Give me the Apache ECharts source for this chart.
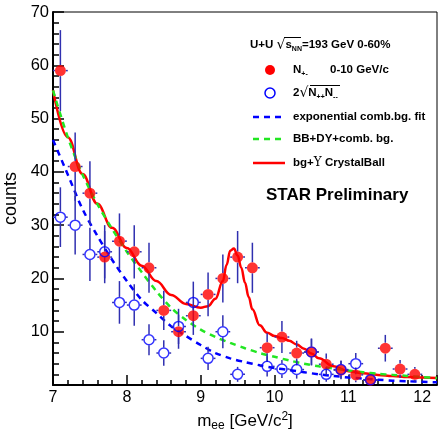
<!DOCTYPE html>
<html>
<head>
<meta charset="utf-8">
<script src="https://cdn.jsdelivr.net/npm/echarts@6/dist/echarts.min.js"></script>
<style>html,body{margin:0;padding:0;background:#fff;}</style>
</head>
<body>
<div id="main" style="width:438px;height:430px;"></div>
<script>
// bin centres of the dielectron mass histogram (GeV/c^2)
var binCenters = [7.1, 7.3, 7.5, 7.7, 7.9, 8.1, 8.3, 8.5, 8.7, 8.9, 9.1, 9.3, 9.5, 9.7, 9.9, 10.1, 10.3, 10.5, 10.7, 10.9, 11.1, 11.3, 11.5, 11.7, 11.9];
// unlike-sign pairs N+-
var unlikeSign = [59, 41, 36, 24, 27, 25, 22, 14, 10, 13, 17, 20, 24, 22, 7, 9, 6, 6.2, 3.9, 2.8, 1.9, 0.9, 6.9, 3, 2];
var unlikeErr  = [7.6, 6.4, 6, 4.9, 5.2, 5, 4.7, 3.7, 3.2, 3.6, 4.1, 4.5, 4.9, 4.7, 2.7, 3, 2.3, 2.5, 2, 1.7, 1.4, 1, 2.5, 1.7, 1.4];
// like-sign 2*sqrt(N++ N--)
var likeSign = [31.5, 30, 24.5, 25, 15.5, 15, 8.5, 6, 11, 15.5, 5, 10, 2, null, 3.5, 3, 2.9, 6.2, 2, 2.9, 4, 1, null, null, null];
var likeErr  = [5.6, 5.5, 5, 5, 4, 3.9, 2.9, 2.4, 3.3, 3.9, 2.2, 3.1, 1.4, null, 1.9, 1.7, 1.7, 2.5, 1.4, 1.7, 2, 1, null, null, null];

// background curves
var fitX = [7.0, 7.2, 7.4, 7.6, 7.8, 8.0, 8.2, 8.4, 8.6, 8.8, 9.0, 9.2, 9.4, 9.6, 9.8, 10.0, 10.2, 10.4, 10.6, 10.8, 11.0, 11.2, 11.4, 11.6, 11.8, 12.0, 12.2];
var expBg      = [46, 39.5, 33, 28, 23.5, 19.5, 16, 13.5, 11, 9.2, 7.5, 6.0, 5.0, 4.3, 3.7, 3.2, 2.8, 2.4, 2.0, 1.7, 1.4, 1.2, 1.0, 0.8, 0.7, 0.6, 0.5];
var cocktailBg = [55.3, 46.5, 39.5, 34, 29.3, 25.0, 21.2, 17.6, 14.5, 12.2, 10.4, 9.0, 7.9, 6.9, 6.0, 5.3, 4.6, 4.0, 3.5, 3.1, 2.7, 2.4, 2.1, 1.9, 1.7, 1.5, 1.3];

// bg + Upsilon crystal ball
var upsX   = [7.0, 7.2, 7.4, 7.6, 7.8, 8.0, 8.2, 8.4, 8.6, 8.8, 9.0, 9.1, 9.2, 9.3, 9.35, 9.4, 9.45, 9.5, 9.55, 9.6, 9.65, 9.7, 9.8, 9.9, 10.0, 10.1, 10.2, 10.3, 10.4, 10.5, 10.6, 10.8, 11.0, 11.2, 11.4, 11.6, 11.8, 12.0, 12.2];
var upsFit = [55.3, 46.5, 39.6, 34, 29.5, 25.7, 22.4, 19.5, 16.9, 15.2, 14.5, 14.8, 16.2, 19.5, 22.5, 25.2, 25.6, 24.3, 22, 19.2, 16.5, 14.2, 11.2, 9.8, 9.2, 8.8, 8.3, 7.6, 6.8, 5.9, 5.0, 3.5, 2.6, 2.2, 1.9, 1.7, 1.5, 1.4, 1.3];

var xLabels = [7, 8, 9, 10, 11, 12];

var font = 'Liberation Sans, Arial, sans-serif';
var barColor = '#3030b0';
var markR = 5.5;

function pairs(xs, ys) {
    var out = [];
    for (var i = 0; i < xs.length; i++) {
        if (ys[i] != null) out.push([xs[i], ys[i]]);
    }
    return out;
}

// ROOT style error bars: vertical = stat. error, horizontal = half bin width,
// not drawn inside the marker
function errorBars(vals, errs, z) {
    var data = [];
    for (var i = 0; i < binCenters.length; i++) {
        if (vals[i] != null) data.push([binCenters[i], vals[i], errs[i]]);
    }
    return {
        type: 'custom',
        z: z,
        silent: true,
        data: data,
        encode: {x: 0, y: 1},
        renderItem: function (params, api) {
            var x = api.value(0), y = api.value(1), e = api.value(2);
            var c = api.coord([x, y]);
            var top = api.coord([x, y + e]);
            var bot = api.coord([x, Math.max(y - e, 0)]);
            var l = api.coord([x - 0.1, y]);
            var r = api.coord([x + 0.1, y]);
            var st = {stroke: barColor, lineWidth: 1.5};
            var kids = [];
            if (c[1] - markR > top[1]) kids.push({type: 'line', shape: {x1: c[0], y1: top[1], x2: c[0], y2: c[1] - markR}, style: st});
            if (bot[1] > c[1] + markR) kids.push({type: 'line', shape: {x1: c[0], y1: c[1] + markR, x2: c[0], y2: bot[1]}, style: st});
            kids.push({type: 'line', shape: {x1: l[0], y1: c[1], x2: c[0] - markR, y2: c[1]}, style: st});
            kids.push({type: 'line', shape: {x1: c[0] + markR, y1: c[1], x2: r[0], y2: c[1]}, style: st});
            return {type: 'group', children: kids};
        }
    };
}

var myChart = echarts.init(document.getElementById('main'));

var bold = {fontSize: 11.5, fontWeight: 'bold', fontFamily: font, color: '#000'};
var sub = {fontSize: 7, fontWeight: 'bold', fontFamily: font, color: '#000', padding: [9, 0, 0, 0]};
var root = {fontSize: 14, fontFamily: 'DejaVu Sans', color: '#000'};

var option = {
    animation: false,
    backgroundColor: '#fff',
    grid: {left: 53, right: 1, top: 12, bottom: 45, show: true, borderColor: '#000', borderWidth: 1,
        outerBoundsMode: 'none', containLabel: false},
    xAxis: [{
        type: 'value', min: 7, max: 12.2, interval: 1, position: 'bottom',
        axisLine: {lineStyle: {color: '#000', width: 2}},
        axisTick: {inside: true, length: 10, lineStyle: {color: '#000', width: 1.5}},
        axisLabel: {
            color: '#000', fontSize: 16, fontFamily: font, margin: 5,
            formatter: function (v) { return xLabels.indexOf(v) >= 0 ? String(v) : ''; }
        },
        splitLine: {show: false},
        name: '{t|m}{s|ee}{t| [GeV/c}{p|2}{t|]}',
        nameLocation: 'middle', nameGap: 18,
        nameTextStyle: {
            rich: {
                t: {fontSize: 17, fontFamily: font, color: '#000'},
                s: {fontSize: 12, fontFamily: font, color: '#000', padding: [9, 0, 0, 0]},
                p: {fontSize: 12, fontFamily: font, color: '#000', padding: [0, 0, 9, 0]}
            }
        }
    }, {
        type: 'value', min: 7, max: 12.2, interval: 0.2, position: 'bottom',
        axisLine: {show: false},
        axisTick: {inside: true, length: 5, lineStyle: {color: '#000', width: 1.5}},
        axisLabel: {show: false},
        splitLine: {show: false}
    }],
    yAxis: {
        type: 'value', min: 0, max: 70, interval: 10,
        axisLine: {show: true, lineStyle: {color: '#000', width: 2}},
        axisTick: {show: true, inside: true, length: 11, lineStyle: {color: '#000', width: 1.5}},
        minorTick: {show: true, splitNumber: 5, length: 6, lineStyle: {color: '#000', width: 1.5}},
        axisLabel: {
            color: '#000', fontSize: 16.5, fontFamily: font, margin: 4,
            formatter: function (v) { return v === 0 ? '' : String(v); }
        },
        splitLine: {show: false},
        name: 'counts', nameLocation: 'middle', nameGap: 22, nameRotate: 90,
        nameTextStyle: {fontSize: 18, fontFamily: font, color: '#000'}
    },
    series: [
        {
            name: 'bg+Y CrystalBall', type: 'line', z: 2, data: pairs(upsX, upsFit),
            showSymbol: false, smooth: 0.4, smoothMonotone: 'x',
            lineStyle: {color: '#ff0000', width: 2.5}
        },
        {
            name: 'BB+DY+comb. bg.', type: 'line', z: 3, data: pairs(fitX, cocktailBg),
            showSymbol: false, smooth: 0.3,
            lineStyle: {color: '#22e622', width: 2.5, type: [6, 5]}
        },
        {
            name: 'exponential comb.bg. fit', type: 'line', z: 3, data: pairs(fitX, expBg),
            showSymbol: false, smooth: 0.3,
            lineStyle: {color: '#0000ff', width: 2.5, type: [6, 5]}
        },
        errorBars(likeSign, likeErr, 4),
        errorBars(unlikeSign, unlikeErr, 4),
        {
            name: 'N+-', type: 'scatter', z: 5, data: pairs(binCenters, unlikeSign),
            symbol: 'circle', symbolSize: 11,
            itemStyle: {color: '#ff0000'}
        },
        {
            name: '2sqrt(N++N--)', type: 'scatter', z: 6, data: pairs(binCenters, likeSign),
            symbol: 'circle', symbolSize: 10,
            itemStyle: {color: 'rgba(0,0,0,0)', borderColor: '#0000ff', borderWidth: 1.5}
        }
    ],
    graphic: [
        {type: 'text', x: 250, y: 45, style: {
            text: '{b|U+U }{r|√}{b|s}{s|NN}{b|=193 GeV 0-60%}', verticalAlign: 'middle',
            rich: {b: bold, s: sub, r: root}}},
        {type: 'line', shape: {x1: 284, y1: 37.5, x2: 301, y2: 37.5}, style: {stroke: '#000', lineWidth: 1}},

        {type: 'circle', shape: {cx: 270, cy: 70, r: 5}, style: {fill: '#ff0000'}},
        {type: 'text', x: 293, y: 70, style: {
            text: '{b|N}{s|+-}', verticalAlign: 'middle', rich: {b: bold, s: sub}}},
        {type: 'text', x: 330, y: 70, style: {text: '0-10 GeV/c', verticalAlign: 'middle',
            font: 'bold 11.5px ' + font, fill: '#000'}},

        {type: 'circle', shape: {cx: 270, cy: 93, r: 5}, style: {fill: 'none', stroke: '#0000ff', lineWidth: 1.5}},
        {type: 'text', x: 293, y: 93, style: {
            text: '{b|2}{r|√}{b|N}{s|++}{b|N}{s|--}', verticalAlign: 'middle',
            rich: {b: bold, s: sub, r: root}}},
        {type: 'line', shape: {x1: 310, y1: 85.5, x2: 340, y2: 85.5}, style: {stroke: '#000', lineWidth: 1}},

        {type: 'line', shape: {x1: 253, y1: 117, x2: 285, y2: 117}, style: {stroke: '#0000ff', lineWidth: 2.5, lineDash: [6, 5]}},
        {type: 'text', x: 293, y: 117, style: {text: 'exponential comb.bg. fit', verticalAlign: 'middle',
            font: 'bold 11.5px ' + font, fill: '#000'}},

        {type: 'line', shape: {x1: 253, y1: 139, x2: 285, y2: 139}, style: {stroke: '#22e622', lineWidth: 2.5, lineDash: [6, 5]}},
        {type: 'text', x: 293, y: 139, style: {text: 'BB+DY+comb. bg.', verticalAlign: 'middle',
            font: 'bold 11.5px ' + font, fill: '#000'}},

        {type: 'line', shape: {x1: 253, y1: 163, x2: 285, y2: 163}, style: {stroke: '#ff0000', lineWidth: 2.5}},
        {type: 'text', x: 293, y: 163, style: {
            text: '{b|bg+}{g|Υ}{b| CrystalBall}', verticalAlign: 'middle',
            rich: {b: bold, g: {fontSize: 12, fontFamily: 'DejaVu Serif', color: '#000'}}}},

        {type: 'text', x: 266, y: 195, style: {text: 'STAR Preliminary', verticalAlign: 'middle',
            font: 'bold 17px ' + font, fill: '#000'}}
    ]
};

myChart.setOption(option);
</script>
</body>
</html>
